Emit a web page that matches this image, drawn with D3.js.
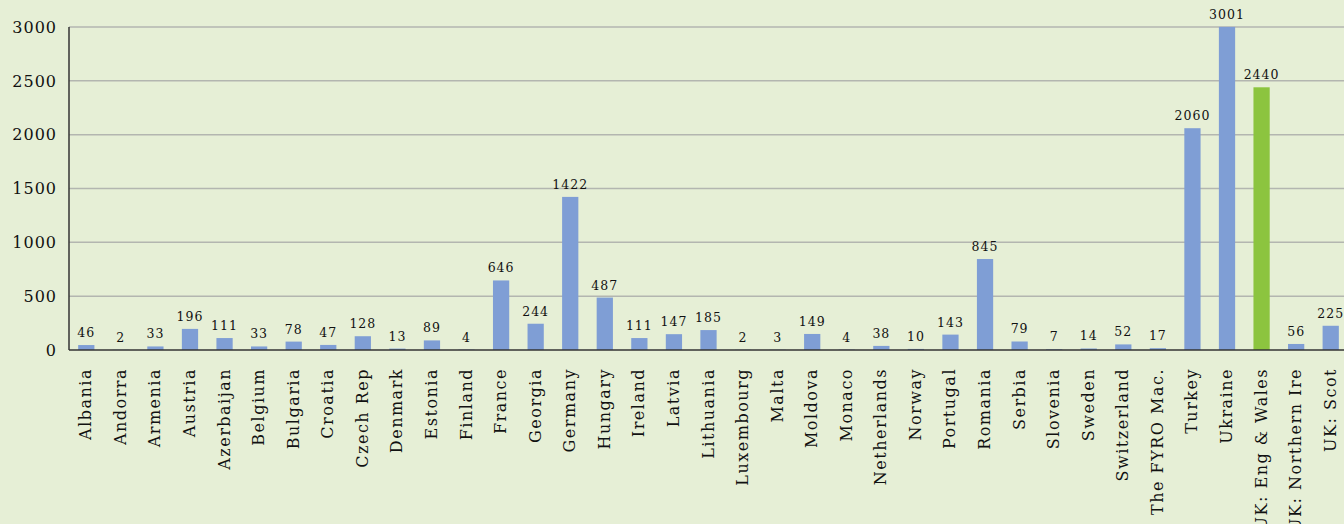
<!DOCTYPE html>
<meta charset="utf-8">
<script src="https://d3js.org/d3.v7.min.js"></script>
<style>
  body { margin: 0; background: #e6efd6; }
  text { font-family: "DejaVu Serif", serif; fill: #111; }
</style>
<div id="chart"></div>
<script>
  const countries = ["Albania", "Andorra", "Armenia", "Austria", "Azerbaijan", "Belgium", "Bulgaria", "Croatia",
    "Czech Rep", "Denmark", "Estonia", "Finland", "France", "Georgia", "Germany", "Hungary", "Ireland", "Latvia",
    "Lithuania", "Luxembourg", "Malta", "Moldova", "Monaco", "Netherlands", "Norway", "Portugal", "Romania",
    "Serbia", "Slovenia", "Sweden", "Switzerland", "The FYRO Mac.", "Turkey", "Ukraine", "UK: Eng & Wales",
    "UK: Northern Ire", "UK: Scot"];
  const counts = [46, 2, 33, 196, 111, 33, 78, 47, 128, 13, 89, 4, 646, 244, 1422, 487, 111, 147, 185, 2, 3,
    149, 4, 38, 10, 143, 845, 79, 7, 14, 52, 17, 2060, 3001, 2440, 56, 225];
  const highlight = ["UK: Eng & Wales"];
  const yTicks = [0, 500, 1000, 1500, 2000, 2500, 3000];

  const W = 1344, H = 524;
  const margin = { top: 27, right: -4, bottom: 174, left: 69 };
  const width = W - margin.left - margin.right,
    height = H - margin.top - margin.bottom;

  const svg = d3.select("#chart").append("svg")
    .attr("width", W).attr("height", H)
    .style("display", "block");

  const g = svg.append("g")
    .attr("transform", `translate(${margin.left},${margin.top})`);

  const data = countries.map((c, i) => ({ name: c, value: counts[i] }));

  const x = d3.scaleBand()
    .domain(countries)
    .range([0, width])
    .paddingInner(0.53)
    .paddingOuter(0.265);

  const y = d3.scaleLinear()
    .domain([0, 3000])
    .range([height, 0]);

  // gridlines
  g.selectAll(".grid")
    .data(yTicks.filter(d => d > 0))
    .join("line")
    .attr("x1", 0).attr("x2", width)
    .attr("y1", d => y(d)).attr("y2", d => y(d))
    .attr("stroke", "#b3b6b0")
    .attr("stroke-width", 1.5);

  // y tick labels
  g.selectAll(".ytick")
    .data(yTicks)
    .join("text")
    .attr("x", -12)
    .attr("y", d => y(d))
    .attr("dy", "0.36em")
    .attr("text-anchor", "end")
    .style("font-size", "16px")
    .style("letter-spacing", "1px")
    .text(d => d);

  // bars
  g.selectAll(".bar")
    .data(data)
    .join("rect")
    .attr("x", d => x(d.name))
    .attr("y", d => y(d.value))
    .attr("width", x.bandwidth())
    .attr("height", d => height - y(d.value))
    .attr("fill", d => highlight.includes(d.name) ? "#8cc43f" : "#7f9ed5");

  // value labels
  g.selectAll(".val")
    .data(data)
    .join("text")
    .attr("x", d => x(d.name) + x.bandwidth() / 2)
    .attr("y", d => y(d.value) - 8)
    .attr("text-anchor", "middle")
    .style("font-size", "12.5px")
    .style("letter-spacing", "1px")
    .text(d => d.value);

  // axes lines
  g.append("line")
    .attr("x1", 0).attr("x2", 0)
    .attr("y1", 0).attr("y2", height)
    .attr("stroke", "#333").attr("stroke-width", 1.5);
  g.append("line")
    .attr("x1", 0).attr("x2", width)
    .attr("y1", height).attr("y2", height)
    .attr("stroke", "#333").attr("stroke-width", 1.5);

  // category labels
  g.selectAll(".cat")
    .data(countries)
    .join("text")
    .attr("transform", d => `translate(${x(d) + x.bandwidth() / 2 + 5},${height + 18}) rotate(-90)`)
    .attr("text-anchor", "end")
    .style("font-size", "16px")
    .style("letter-spacing", "1.5px")
    .text(d => d);
</script>
